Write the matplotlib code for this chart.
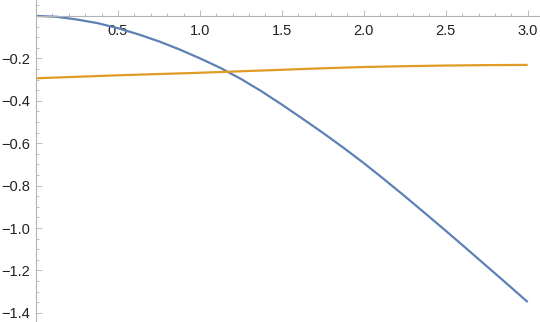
import matplotlib
matplotlib.use("Agg")
import matplotlib.pyplot as plt
from matplotlib.ticker import MultipleLocator, FixedLocator

plt.rcParams['font.family'] = ['Liberation Sans', 'DejaVu Sans']

blue_x = [0.0, 0.125, 0.25, 0.375, 0.5, 0.625, 0.75, 0.875, 1.0, 1.125, 1.25, 1.375,
          1.5, 1.625, 1.75, 1.875, 2.0, 2.125, 2.25, 2.375, 2.5, 2.625, 2.75, 2.875, 3.0]
blue_vals = [0.0, -0.004, -0.017, -0.034, -0.058, -0.087, -0.120, -0.158, -0.200, -0.245,
             -0.297, -0.355, -0.418, -0.484, -0.551, -0.621, -0.694, -0.771, -0.850,
             -0.931, -1.013, -1.096, -1.180, -1.264, -1.349]
orange_x = [0.0, 0.25, 0.5, 0.75, 1.0, 1.25, 1.5, 1.75, 2.0, 2.25, 2.5, 2.75, 3.0]
orange_vals = [-0.294, -0.287, -0.280, -0.274, -0.268, -0.261, -0.254, -0.247, -0.241,
               -0.237, -0.234, -0.232, -0.231]

x_ticks = [0.5, 1.0, 1.5, 2.0, 2.5, 3.0]
x_labels = ["0.5", "1.0", "1.5", "2.0", "2.5", "3.0"]
y_ticks = [-1.4, -1.2, -1.0, -0.8, -0.6, -0.4, -0.2]
y_labels = ["\u22121.4", "\u22121.2", "\u22121.0", "\u22120.8", "\u22120.6", "\u22120.4", "\u22120.2"]

fig = plt.figure(figsize=(5.4, 3.22), dpi=100)
ax = fig.add_axes([36/540, 0, 1 - 36/540, 1])
ax.plot(blue_x, blue_vals, color="#5E81B5", lw=1.6, solid_capstyle="butt")
ax.plot(orange_x, orange_vals, color="#E19C24", lw=1.6, solid_capstyle="butt")

ax.set_xlim(0, 3.075)
ax.set_ylim(-1.443, 0.075)

for s in ["top", "right"]:
    ax.spines[s].set_visible(False)
ax.spines["bottom"].set_position(("data", 0))
ax.spines["left"].set_position(("data", 0))
for s in ["bottom", "left"]:
    ax.spines[s].set_color("#b3b3b3")
    ax.spines[s].set_linewidth(0.8)

ax.xaxis.set_major_locator(FixedLocator(x_ticks))
ax.set_xticklabels(x_labels)
ax.xaxis.set_minor_locator(MultipleLocator(0.1))
ax.yaxis.set_major_locator(FixedLocator(y_ticks))
ax.set_yticklabels(y_labels)
ax.yaxis.set_minor_locator(MultipleLocator(0.05))

ax.tick_params(which="both", direction="in", color="#b3b3b3", width=0.6, labelsize=10.5, labelcolor="#222222")
ax.tick_params(which="major", length=4.5)
ax.tick_params(which="minor", length=2.5)
ax.tick_params(axis="x", pad=6)
ax.tick_params(axis="y", pad=4)
ax.patch.set_alpha(0)

fig.savefig("out.png", dpi=100)
